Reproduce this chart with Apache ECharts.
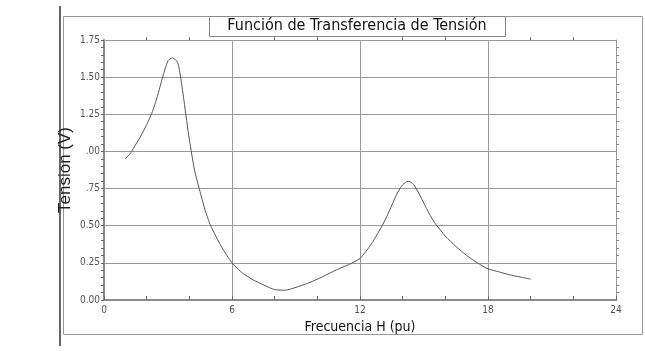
<!DOCTYPE html>
<html>
<head>
<meta charset="utf-8">
<script src="https://cdn.jsdelivr.net/npm/echarts@6/dist/echarts.min.js"></script>
<style>
    html, body { margin: 0; padding: 0; background: #fff; }
    #chart { width: 645px; height: 351px; }
</style>
</head>
<body>
<div id="chart"></div>
<script>
    // frecuencia (pu) y tension (V)
    var frecuencia = [1, 1.25, 1.5, 1.75, 2, 2.25, 2.5, 2.75, 3, 3.2, 3.45, 3.6, 3.75, 4, 4.25, 4.5, 4.75, 5, 5.5, 6, 6.5, 7, 7.5, 8, 8.5, 9, 9.5, 10, 10.5, 11, 11.5, 12, 12.5, 13, 13.25, 13.5, 13.75, 14, 14.25, 14.5, 14.75, 15, 15.25, 15.5, 16, 16.5, 17, 17.5, 18, 18.5, 19, 19.5, 20];
    var tension = [0.95, 0.99, 1.05, 1.11, 1.18, 1.26, 1.37, 1.50, 1.61, 1.63, 1.60, 1.49, 1.34, 1.08, 0.87, 0.73, 0.60, 0.50, 0.36, 0.25, 0.18, 0.135, 0.10, 0.07, 0.066, 0.085, 0.11, 0.14, 0.175, 0.21, 0.24, 0.28, 0.37, 0.49, 0.56, 0.64, 0.72, 0.775, 0.80, 0.78, 0.72, 0.65, 0.58, 0.52, 0.43, 0.36, 0.30, 0.25, 0.21, 0.19, 0.17, 0.155, 0.14];
    var etiquetasY = {'0': '0.00', '0.25': '0.25', '0.5': '0.50', '0.75': '.75', '1': '.00', '1.25': '1.25', '1.5': '1.50', '1.75': '1.75'};

    var dom = document.getElementById('chart');
    var myChart = echarts.init(dom);
    var narrow = '"DejaVu Sans Condensed", "Liberation Sans Narrow", "Liberation Sans", sans-serif';
    var gris = '#8a8a8a';

    var option = {
        animation: false,
        grid: { left: 104, right: 29, top: 40, bottom: 51 },
        title: {
            text: 'Función de Transferencia de Tensión',
            left: 357, top: 18, textAlign: 'center',
            textStyle: { fontFamily: narrow, fontSize: 16, fontWeight: 'normal', color: '#111' },
            padding: 0
        },
        graphic: [
            { type: 'rect', shape: { x: 63.5, y: 16.5, width: 579, height: 318 }, style: { fill: 'none', stroke: '#999', lineWidth: 1 }, z: -1 },
            { type: 'line', shape: { x1: 60, y1: 6, x2: 60, y2: 346 }, style: { stroke: '#666', lineWidth: 2 } },
            { type: 'rect', shape: { x: 209.5, y: 16.5, width: 296, height: 20 }, style: { fill: '#fff', stroke: '#888', lineWidth: 1 }, z: 0 }
        ],
        xAxis: [
            {
                type: 'value', min: 0, max: 24, interval: 6,
                name: 'Frecuencia H (pu)', nameLocation: 'middle', nameGap: 18,
                nameTextStyle: { fontFamily: narrow, fontSize: 14, color: '#111' },
                axisLine: { lineStyle: { color: gris, width: 2 } },
                axisTick: { show: true, inside: true, length: 4, lineStyle: { color: '#666' } },
                minorTick: { show: true, splitNumber: 3, length: 4, lineStyle: { color: '#666' } },
                axisLabel: { fontFamily: narrow, fontSize: 10, color: '#555', margin: 5 },
                splitLine: { show: true, lineStyle: { color: '#999', width: 1 } }
            },
            {
                type: 'value', min: 0, max: 24, interval: 6, position: 'top',
                axisLine: { show: true, onZero: false, lineStyle: { color: '#999', width: 1 } },
                axisTick: { show: false },
                minorTick: { show: true, splitNumber: 3, length: 3, lineStyle: { color: '#777' } },
                axisLabel: { show: false },
                splitLine: { show: false }
            }
        ],
        yAxis: [
            {
                type: 'value', min: 0, max: 1.75, interval: 0.25,
                name: 'Tension (V)', nameLocation: 'middle', nameGap: 30, nameMoveOverlap: false,
                nameTextStyle: { fontFamily: '"Liberation Sans", sans-serif', fontSize: 17, color: '#222' },
                axisLine: { show: true, lineStyle: { color: gris, width: 2 } },
                axisTick: { show: true, length: 3, lineStyle: { color: '#666' } },
                minorTick: { show: true, splitNumber: 5, length: 3, lineStyle: { color: '#666' } },
                axisLabel: {
                    fontFamily: narrow, fontSize: 10, color: '#555', margin: 4,
                    formatter: function (v) { return etiquetasY[String(v)]; }
                },
                splitLine: { show: true, lineStyle: { color: '#999', width: 1 } }
            },
            {
                type: 'value', min: 0, max: 1.75, interval: 0.25, position: 'right',
                axisLine: { show: true, onZero: false, lineStyle: { color: '#999', width: 1 } },
                axisTick: { show: false },
                minorTick: { show: true, splitNumber: 5, length: 3, lineStyle: { color: '#888' } },
                axisLabel: { show: false },
                splitLine: { show: false }
            }
        ],
        series: [
            {
                type: 'line',
                data: frecuencia.map(function (f, i) { return [f, tension[i]]; }),
                smooth: 0.2,
                showSymbol: false,
                lineStyle: { color: '#555', width: 1 }
            }
        ]
    };
    myChart.setOption(option, true);
</script>
</body>
</html>
